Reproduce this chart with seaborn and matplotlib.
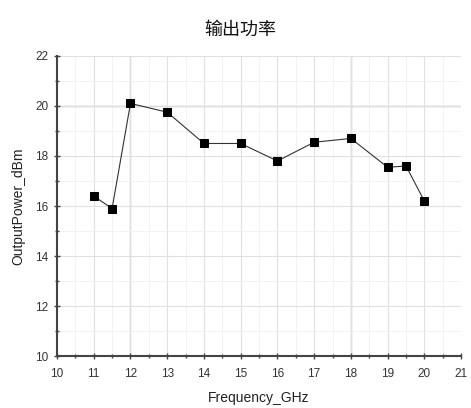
import matplotlib
matplotlib.use("Agg")
import matplotlib.pyplot as plt
import seaborn as sns
import pandas as pd
from matplotlib.ticker import MultipleLocator

freq = [11, 11.5, 12, 13, 14, 15, 16, 17, 18, 19, 19.5, 20]
power = [16.4, 15.9, 20.1, 19.75, 18.5, 18.5, 17.8, 18.55, 18.7, 17.55, 17.6, 16.2]

df = pd.DataFrame({'Frequency_GHz': freq, 'OutputPower_dBm': power})

sns.set_style('white')
plt.rcParams['font.family'] = ['Liberation Sans', 'Noto Sans CJK SC', 'DejaVu Sans']

fig = plt.figure(figsize=(4.71, 4.08), dpi=100)
ax = fig.add_axes([0.121, 0.127, 0.858, 0.736])

sns.lineplot(data=df, x='Frequency_GHz', y='OutputPower_dBm', ax=ax,
             color='#333333', linewidth=0.8, marker='s', markersize=6,
             markerfacecolor='black', markeredgecolor='black')

ax.set_xlim(10, 21)
ax.set_ylim(10, 22)
ax.xaxis.set_major_locator(MultipleLocator(1))
ax.xaxis.set_minor_locator(MultipleLocator(0.5))
ax.yaxis.set_major_locator(MultipleLocator(2))
ax.yaxis.set_minor_locator(MultipleLocator(1))

ax.grid(which='major', color='#e0e0e0', linewidth=0.8)
ax.grid(which='minor', color='#f0f0f0', linewidth=0.6)
# darker lines seen in the original
ax.axhline(20, color='#bdbdbd', linewidth=1.0, zorder=0)
ax.axvline(12, color='#c8c8c8', linewidth=1.0, zorder=0)
ax.axvline(18, color='#bdbdbd', linewidth=1.0, zorder=0)

for s in ['top', 'right']:
    ax.spines[s].set_visible(False)
for s in ['left', 'bottom']:
    ax.spines[s].set_color('#444444')
    ax.spines[s].set_linewidth(1.5)

ax.tick_params(which='major', direction='inout', length=5, width=1, color='#444444',
               labelsize=8.5, labelcolor='#333333', left=True, bottom=True)
ax.tick_params(axis='x', which='major', pad=6)
ax.tick_params(which='minor', direction='inout', length=3, width=1, color='#444444',
               left=True, bottom=True)

ax.set_xlabel('Frequency_GHz', fontsize=10, color='#222222', labelpad=8)
ax.set_ylabel('OutputPower_dBm', fontsize=10, color='#222222', labelpad=7)

fig.suptitle('输出功率', x=0.51, y=0.95, fontsize=13, color='#111111',
             family=['Noto Sans CJK SC', 'DejaVu Sans'])

fig.savefig('out.png', dpi=100)
